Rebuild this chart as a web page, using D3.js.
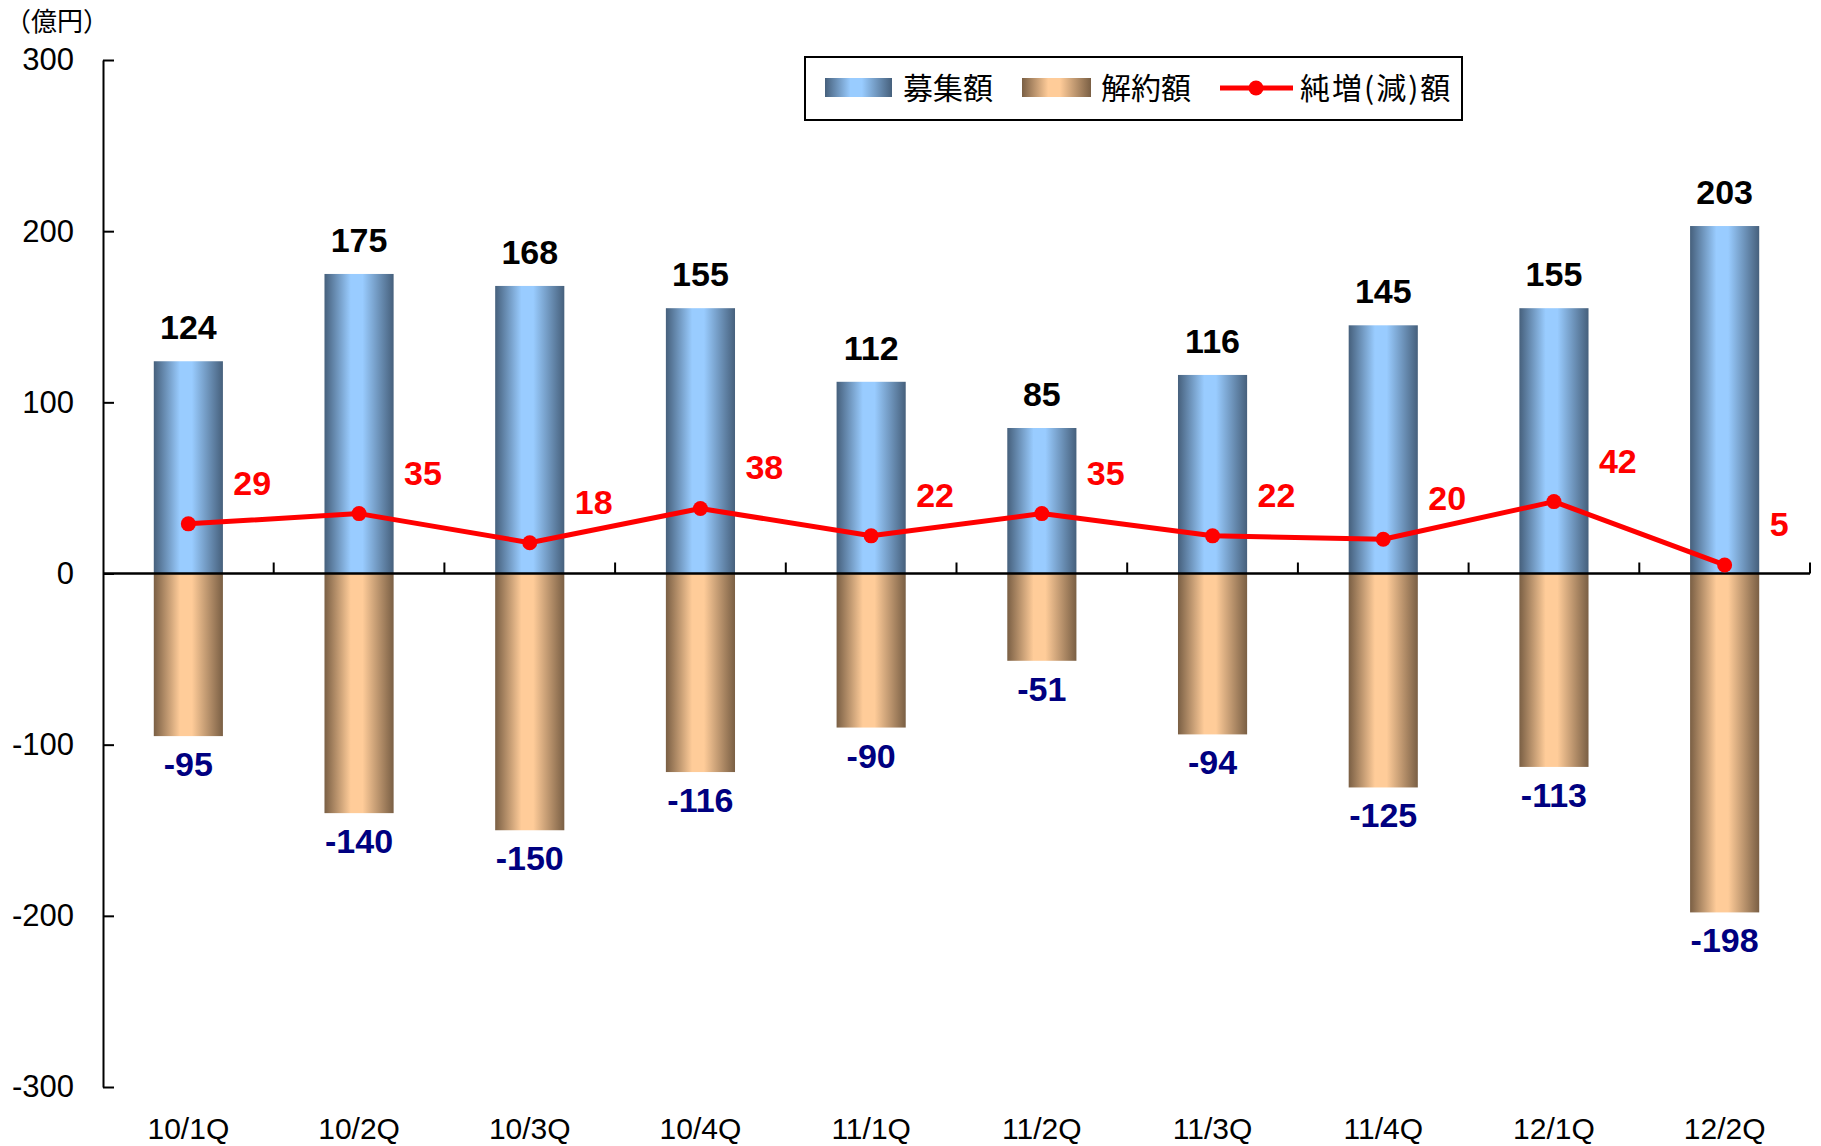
<!DOCTYPE html>
<html>
<head>
<meta charset="utf-8">
<script src="https://cdn.jsdelivr.net/npm/d3@7"></script>
<style>
	body { margin: 0; background: #fff; }
	svg { display: block; }
	text { font-family: "Liberation Sans", Arial, sans-serif; }
	.jp { font-family: "Noto Sans CJK JP", "Noto Sans", sans-serif; }
</style>
</head>
<body>
<svg id="chart"></svg>
<script>
// data
let quarters = ["10/1Q", "10/2Q", "10/3Q", "10/4Q", "11/1Q", "11/2Q", "11/3Q", "11/4Q", "12/1Q", "12/2Q"];
let recruit = [124, 175, 168, 155, 112, 85, 116, 145, 155, 203]; // 募集額
let cancel = [-95, -140, -150, -116, -90, -51, -94, -125, -113, -198]; // 解約額
let net = [29, 35, 18, 38, 22, 35, 22, 20, 42, 5]; // 純増(減)額
let yTicks = [-300, -200, -100, 0, 100, 200, 300];

let size = { w: 1821, h: 1146 };
let plot = { left: 103, right: 1810, top: 60, bottom: 1087 };

let svg = d3.select("#chart").attr("width", size.w).attr("height", size.h);

let defs = svg.append("defs");
function barGradient(id, dark, light) {
	let g = defs.append("linearGradient").attr("id", id)
		.attr("x1", "0%").attr("x2", "100%").attr("y1", "0%").attr("y2", "0%");
	g.append("stop").attr("offset", "0%").attr("stop-color", dark);
	g.append("stop").attr("offset", "38%").attr("stop-color", light);
	g.append("stop").attr("offset", "55%").attr("stop-color", light);
	g.append("stop").attr("offset", "100%").attr("stop-color", dark);
}
barGradient("gradBlue", "#46607c", "#99ccff");
barGradient("gradTan", "#7a5f44", "#ffcc99");

let x = d3.scaleBand().domain(quarters).range([plot.left, plot.right]).padding(0);
let y = d3.scaleLinear().domain([-300, 300]).range([plot.bottom, plot.top]);
let bw = x.bandwidth() * 0.405;
let cx = (d) => x(d) + x.bandwidth() / 2;

// bars
let rows = quarters.map((q, i) => ({ q, rec: recruit[i], can: cancel[i], net: net[i] }));

svg.append("g").selectAll("rect")
	.data(rows).join("rect")
	.attr("x", (d) => cx(d.q) - bw / 2)
	.attr("width", bw)
	.attr("y", (d) => y(d.rec))
	.attr("height", (d) => y(0) - y(d.rec))
	.attr("fill", "url(#gradBlue)");

svg.append("g").selectAll("rect")
	.data(rows).join("rect")
	.attr("x", (d) => cx(d.q) - bw / 2)
	.attr("width", bw)
	.attr("y", y(0))
	.attr("height", (d) => y(d.can) - y(0))
	.attr("fill", "url(#gradTan)");

// y axis
let yAxis = d3.axisLeft(y).tickValues(yTicks).tickFormat((d) => String(d))
	.tickSizeInner(-11).tickSizeOuter(0).tickPadding(29);
let yG = svg.append("g").attr("transform", `translate(${plot.left},0)`).call(yAxis);
yG.select(".domain").attr("stroke", "#000").attr("stroke-width", 2);
yG.selectAll(".tick line").attr("stroke", "#000").attr("stroke-width", 2);
yG.selectAll(".tick text").attr("font-size", 31).attr("fill", "#000")
	.attr("font-family", "'Liberation Sans', Arial, sans-serif");

// zero line with category ticks
svg.append("line")
	.attr("x1", plot.left).attr("x2", plot.right)
	.attr("y1", y(0)).attr("y2", y(0))
	.attr("stroke", "#000").attr("stroke-width", 2.5);
svg.append("g").selectAll("line")
	.data(quarters).join("line")
	.attr("x1", (d) => x(d) + x.bandwidth()).attr("x2", (d) => x(d) + x.bandwidth())
	.attr("y1", y(0)).attr("y2", y(0) - 11)
	.attr("stroke", "#000").attr("stroke-width", 2);

// category labels
let xAxis = d3.axisBottom(x).tickSize(0).tickPadding(0);
let xG = svg.append("g").attr("transform", "translate(0,1118)").call(xAxis);
xG.select(".domain").remove();
xG.selectAll(".tick text").attr("font-size", 30).attr("fill", "#000")
	.attr("font-family", "'Liberation Sans', Arial, sans-serif");

// net line
let line = d3.line().x((d) => cx(d.q)).y((d) => y(d.net));
svg.append("path").datum(rows)
	.attr("d", line)
	.attr("fill", "none")
	.attr("stroke", "#ff0000")
	.attr("stroke-width", 5)
	.attr("stroke-linejoin", "round");
svg.append("g").selectAll("circle")
	.data(rows).join("circle")
	.attr("cx", (d) => cx(d.q)).attr("cy", (d) => y(d.net))
	.attr("r", 7.5).attr("fill", "#ff0000");

// value labels
svg.append("g").selectAll("text")
	.data(rows).join("text")
	.attr("x", (d) => cx(d.q)).attr("y", (d) => y(d.rec) - 22)
	.attr("text-anchor", "middle")
	.attr("font-size", 34).attr("font-weight", "bold").attr("fill", "#000")
	.text((d) => d.rec);

svg.append("g").selectAll("text")
	.data(rows).join("text")
	.attr("x", (d) => cx(d.q)).attr("y", (d) => y(d.can) + 40)
	.attr("text-anchor", "middle")
	.attr("font-size", 34).attr("font-weight", "bold").attr("fill", "#000080")
	.text((d) => d.can);

svg.append("g").selectAll("text")
	.data(rows).join("text")
	.attr("x", (d) => cx(d.q) + 45).attr("y", (d) => y(d.net) - 29)
	.attr("font-size", 34).attr("font-weight", "bold").attr("fill", "#ff0000")
	.text((d) => d.net);

// unit
svg.append("text").attr("class", "jp")
	.attr("x", 5).attr("y", 31)
	.attr("font-size", 26).attr("fill", "#000")
	.text("（億円）");

// legend
let lg = svg.append("g");
lg.append("rect")
	.attr("x", 805).attr("y", 57).attr("width", 657).attr("height", 63)
	.attr("fill", "#fff").attr("stroke", "#000").attr("stroke-width", 2);
lg.append("rect").attr("x", 825).attr("y", 78).attr("width", 67).attr("height", 19).attr("fill", "url(#gradBlue)");
lg.append("rect").attr("x", 1022).attr("y", 78).attr("width", 69).attr("height", 19).attr("fill", "url(#gradTan)");
lg.append("line").attr("x1", 1220).attr("x2", 1293).attr("y1", 88).attr("y2", 88)
	.attr("stroke", "#ff0000").attr("stroke-width", 5);
lg.append("circle").attr("cx", 1256).attr("cy", 88).attr("r", 7.5).attr("fill", "#ff0000");
let legendText = [["募集額", 903, 0], ["解約額", 1101, 0], ["純増(減)額", 1300, 2]];
lg.selectAll("text.lt")
	.data(legendText).join("text")
	.attr("class", "jp lt")
	.attr("x", (d) => d[1]).attr("y", 99)
	.attr("font-size", 30).attr("fill", "#000")
	.attr("letter-spacing", (d) => d[2])
	.text((d) => d[0]);
</script>
</body>
</html>
